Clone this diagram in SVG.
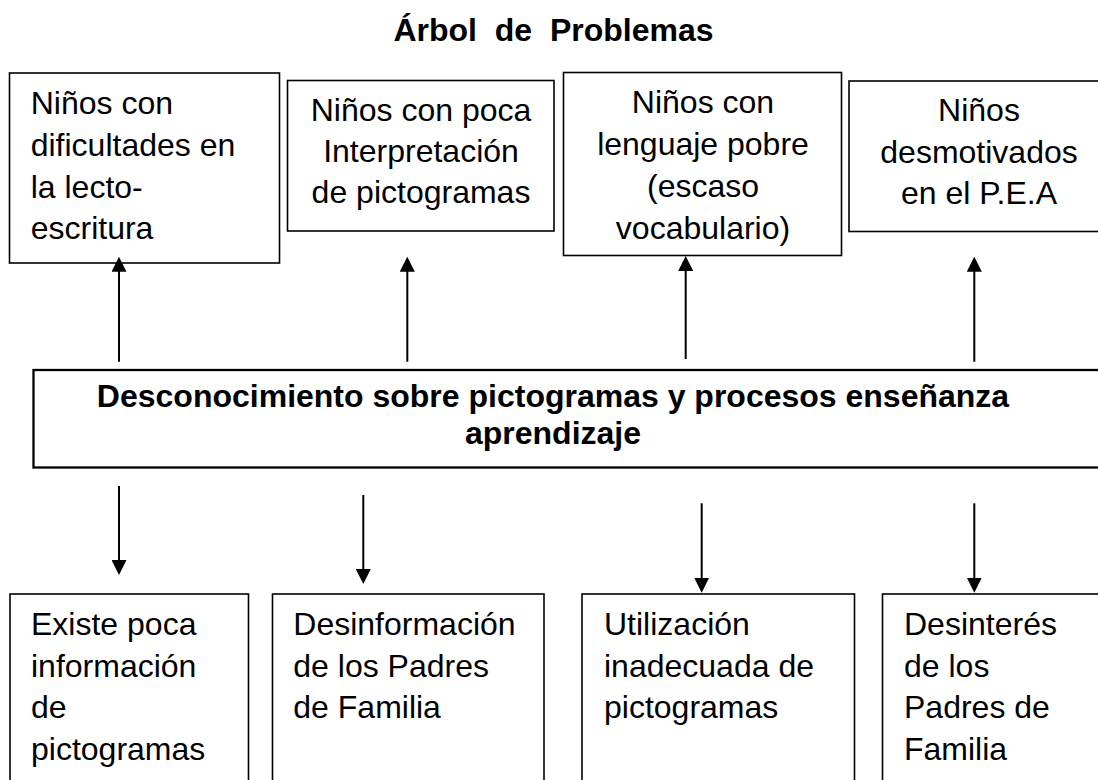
<svg xmlns="http://www.w3.org/2000/svg" width="1098" height="780" viewBox="0 0 1098 780">
<style>
text{font-family:"Liberation Sans",Arial,sans-serif;font-size:32px;fill:#000}
.b{font-weight:bold}
.c{text-anchor:middle}
.pre{white-space:pre}
.box{fill:#fff;stroke:#000;stroke-width:1.6}
.main{fill:#fff;stroke:#000;stroke-width:2.3}
.arr{stroke:#000;stroke-width:2;fill:none;marker-end:url(#ah)}
</style>
<defs>
<marker id="ah" viewBox="0 0 15 15" refX="5" refY="7.5" markerWidth="15" markerHeight="15" markerUnits="userSpaceOnUse" orient="auto">
<path d="M0,0 L15,7.5 L0,15 z" fill="#000"/>
</marker>
</defs>
<rect width="1098" height="780" fill="#fff"/>
<g id="title"><text class="b c pre" x="553.5" y="40.7">Árbol  de  Problemas</text></g>
<g id="efecto1"><rect class="box" x="9.5" y="73" width="270" height="190"/>
<text x="30.7" y="114">Niños con</text><text x="30.7" y="156">dificultades en</text><text x="30.7" y="197.5">la lecto-</text><text x="30.7" y="239">escritura</text></g>
<g id="efecto2"><rect class="box" x="287.5" y="80.5" width="266.5" height="150.5"/>
<text class="c" x="421" y="121">Niños con poca</text><text class="c" x="421" y="162">Interpretación</text><text class="c" x="421" y="203">de pictogramas</text></g>
<g id="efecto3"><rect class="box" x="563.5" y="72.5" width="278" height="183"/>
<text class="c" x="703" y="113">Niños con</text><text class="c" x="703" y="155">lenguaje pobre</text><text class="c" x="703" y="196.7">(escaso</text><text class="c" x="703" y="238.5">vocabulario)</text></g>
<g id="efecto4"><rect class="box" x="849" y="81" width="260" height="150.5"/>
<text class="c" x="979" y="121">Niños</text><text class="c" x="979" y="162.5">desmotivados</text><text class="c" x="979" y="204">en el P.E.A</text></g>
<g id="problema"><rect class="main" x="33.5" y="370" width="1080" height="97.5"/>
<text class="b c" x="553" y="407">Desconocimiento sobre pictogramas y procesos enseñanza</text><text class="b c" x="553" y="443.5">aprendizaje</text></g>
<g id="causa1"><rect class="box" x="10" y="594" width="238.5" height="200"/>
<text x="31" y="635">Existe poca</text><text x="31" y="676.5">información</text><text x="31" y="718">de</text><text x="31" y="759.5">pictogramas</text></g>
<g id="causa2"><rect class="box" x="272.5" y="594" width="271.5" height="200"/>
<text x="293.3" y="635">Desinformación</text><text x="293.3" y="676.5">de los Padres</text><text x="293.3" y="718">de Familia</text></g>
<g id="causa3"><rect class="box" x="582" y="594" width="272.5" height="200"/>
<text x="604" y="635">Utilización</text><text x="604" y="676.5">inadecuada de</text><text x="604" y="718">pictogramas</text></g>
<g id="causa4"><rect class="box" x="882.5" y="594" width="230" height="200"/>
<text x="904" y="635">Desinterés</text><text x="904" y="676.5">de los</text><text x="904" y="718">Padres de</text><text x="904" y="759.5">Familia</text></g>
<g id="connectors">
<line class="arr" x1="119" y1="361.7" x2="119" y2="266.7"/>
<line class="arr" x1="407.3" y1="361.7" x2="407.3" y2="266.7"/>
<line class="arr" x1="685.7" y1="359" x2="685.7" y2="266"/>
<line class="arr" x1="974.3" y1="361.7" x2="974.3" y2="266.7"/>
<line class="arr" x1="119" y1="486" x2="119" y2="565"/>
<line class="arr" x1="363.3" y1="495" x2="363.3" y2="574"/>
<line class="arr" x1="701.7" y1="503.3" x2="701.7" y2="582.7"/>
<line class="arr" x1="974.3" y1="503.3" x2="974.3" y2="582.7"/>
</g>
</svg>
